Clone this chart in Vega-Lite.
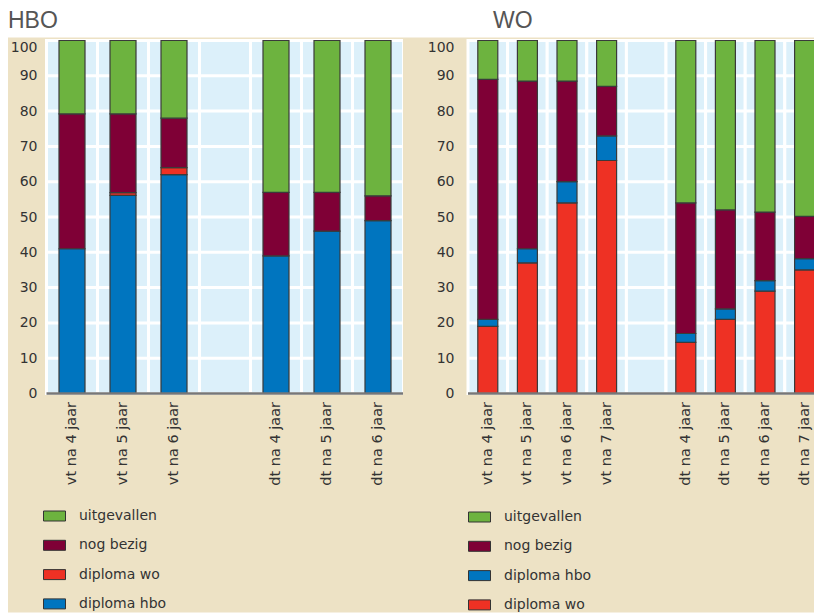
{
  "$schema": "https://vega.github.io/schema/vega-lite/v6.json",
  "background": "white",
  "padding": {"left": 8, "top": 9.5, "right": 0, "bottom": 0},
  "spacing": 0,
  "resolve": {"scale": {"color": "independent", "x": "independent", "y": "independent"}, "legend": {"color": "independent"}},
  "config": {
    "view": {"stroke": null},
    "font": "DejaVu Sans",
    "title": {"font": "Liberation Sans", "fontSize": 23, "fontWeight": "normal", "color": "#555555", "anchor": "start", "baseline": "alphabetic", "offset": 4.3}
  },
  "datasets": {
    "hbo": [
      {"cat": "vt na 4 jaar", "status": "diploma hbo", "pct": 41},
      {"cat": "vt na 4 jaar", "status": "nog bezig", "pct": 38.2},
      {"cat": "vt na 4 jaar", "status": "uitgevallen", "pct": 20.8},
      {"cat": "vt na 5 jaar", "status": "diploma hbo", "pct": 56.1},
      {"cat": "vt na 5 jaar", "status": "diploma wo", "pct": 0.8},
      {"cat": "vt na 5 jaar", "status": "nog bezig", "pct": 22.3},
      {"cat": "vt na 5 jaar", "status": "uitgevallen", "pct": 20.8},
      {"cat": "vt na 6 jaar", "status": "diploma hbo", "pct": 62},
      {"cat": "vt na 6 jaar", "status": "diploma wo", "pct": 2},
      {"cat": "vt na 6 jaar", "status": "nog bezig", "pct": 14},
      {"cat": "vt na 6 jaar", "status": "uitgevallen", "pct": 22},
      {"cat": "dt na 4 jaar", "status": "diploma hbo", "pct": 39},
      {"cat": "dt na 4 jaar", "status": "nog bezig", "pct": 18},
      {"cat": "dt na 4 jaar", "status": "uitgevallen", "pct": 43},
      {"cat": "dt na 5 jaar", "status": "diploma hbo", "pct": 46},
      {"cat": "dt na 5 jaar", "status": "nog bezig", "pct": 11},
      {"cat": "dt na 5 jaar", "status": "uitgevallen", "pct": 43},
      {"cat": "dt na 6 jaar", "status": "diploma hbo", "pct": 49},
      {"cat": "dt na 6 jaar", "status": "nog bezig", "pct": 7},
      {"cat": "dt na 6 jaar", "status": "uitgevallen", "pct": 44}
    ],
    "wo": [
      {"cat": "vt na 4 jaar", "status": "diploma wo", "pct": 19},
      {"cat": "vt na 4 jaar", "status": "diploma hbo", "pct": 2},
      {"cat": "vt na 4 jaar", "status": "nog bezig", "pct": 68},
      {"cat": "vt na 4 jaar", "status": "uitgevallen", "pct": 11},
      {"cat": "vt na 5 jaar", "status": "diploma wo", "pct": 37},
      {"cat": "vt na 5 jaar", "status": "diploma hbo", "pct": 4},
      {"cat": "vt na 5 jaar", "status": "nog bezig", "pct": 47.5},
      {"cat": "vt na 5 jaar", "status": "uitgevallen", "pct": 11.5},
      {"cat": "vt na 6 jaar", "status": "diploma wo", "pct": 54},
      {"cat": "vt na 6 jaar", "status": "diploma hbo", "pct": 6},
      {"cat": "vt na 6 jaar", "status": "nog bezig", "pct": 28.5},
      {"cat": "vt na 6 jaar", "status": "uitgevallen", "pct": 11.5},
      {"cat": "vt na 7 jaar", "status": "diploma wo", "pct": 66},
      {"cat": "vt na 7 jaar", "status": "diploma hbo", "pct": 7},
      {"cat": "vt na 7 jaar", "status": "nog bezig", "pct": 14},
      {"cat": "vt na 7 jaar", "status": "uitgevallen", "pct": 13},
      {"cat": "dt na 4 jaar", "status": "diploma wo", "pct": 14.5},
      {"cat": "dt na 4 jaar", "status": "diploma hbo", "pct": 2.5},
      {"cat": "dt na 4 jaar", "status": "nog bezig", "pct": 37},
      {"cat": "dt na 4 jaar", "status": "uitgevallen", "pct": 46},
      {"cat": "dt na 5 jaar", "status": "diploma wo", "pct": 21},
      {"cat": "dt na 5 jaar", "status": "diploma hbo", "pct": 3},
      {"cat": "dt na 5 jaar", "status": "nog bezig", "pct": 28},
      {"cat": "dt na 5 jaar", "status": "uitgevallen", "pct": 48},
      {"cat": "dt na 6 jaar", "status": "diploma wo", "pct": 29},
      {"cat": "dt na 6 jaar", "status": "diploma hbo", "pct": 3},
      {"cat": "dt na 6 jaar", "status": "nog bezig", "pct": 19.4},
      {"cat": "dt na 6 jaar", "status": "uitgevallen", "pct": 48.6},
      {"cat": "dt na 7 jaar", "status": "diploma wo", "pct": 35},
      {"cat": "dt na 7 jaar", "status": "diploma hbo", "pct": 3.2},
      {"cat": "dt na 7 jaar", "status": "nog bezig", "pct": 12},
      {"cat": "dt na 7 jaar", "status": "uitgevallen", "pct": 49.8}
    ],
    "volgorde_hbo": [
      {"status": "diploma hbo", "rang": 1},
      {"status": "diploma wo", "rang": 2},
      {"status": "nog bezig", "rang": 3},
      {"status": "uitgevallen", "rang": 4}
    ],
    "volgorde_wo": [
      {"status": "diploma wo", "rang": 1},
      {"status": "diploma hbo", "rang": 2},
      {"status": "nog bezig", "rang": 3},
      {"status": "uitgevallen", "rang": 4}
    ],
    "slots_hbo": [
      {"slot": "vt na 4 jaar"}, {"slot": "vt na 5 jaar"}, {"slot": "vt na 6 jaar"}, {"slot": " "},
      {"slot": "dt na 4 jaar"}, {"slot": "dt na 5 jaar"}, {"slot": "dt na 6 jaar"}
    ],
    "slots_wo": [
      {"slot": "vt na 4 jaar"}, {"slot": "vt na 5 jaar"}, {"slot": "vt na 6 jaar"}, {"slot": "vt na 7 jaar"}, {"slot": " "},
      {"slot": "dt na 4 jaar"}, {"slot": "dt na 5 jaar"}, {"slot": "dt na 6 jaar"}, {"slot": "dt na 7 jaar"}
    ],
    "grid": [{"v": 10}, {"v": 20}, {"v": 30}, {"v": 40}, {"v": 50}, {"v": 60}, {"v": 70}, {"v": 80}, {"v": 90}],
    "base": [{"v": 0}]
  },
  "hconcat": [
    {
      "title": {"text": "HBO"},
      "width": 395,
      "height": 575,
      "view": {"fill": "#ede2c5", "stroke": null},
      "layer": [
        {
          "data": {"name": "slots_hbo"},
          "mark": {"type": "rect", "fill": "#dcf0fa", "stroke": "white", "strokeWidth": 3, "clip": true},
          "encoding": {
            "x": {"field": "slot", "type": "nominal", "title": null},
            "y": {"datum": 0, "type": "quantitative", "title": null},
            "y2": {"datum": 100}
          }
        },
        {
          "data": {"name": "grid"},
          "mark": {"type": "rule", "color": "white", "strokeWidth": 3, "clip": true},
          "encoding": {
            "y": {"field": "v", "type": "quantitative", "title": null},
            "x": {"datum": "vt na 4 jaar", "bandPosition": 0, "title": null},
            "x2": {"datum": "dt na 6 jaar", "bandPosition": 1}
          }
        },
        {
          "data": {"name": "hbo"},
          "transform": [
            {"lookup": "status", "from": {"data": {"name": "volgorde_hbo"}, "key": "status", "fields": ["rang"]}}
          ],
          "mark": {"type": "bar", "stroke": "#3a3a3a", "strokeWidth": 1.2, "width": {"band": 0.51}, "clip": true},
          "encoding": {
            "x": {
              "field": "cat", "type": "nominal", "title": null,
              "scale": {"domain": ["vt na 4 jaar", "vt na 5 jaar", "vt na 6 jaar", " ", "dt na 4 jaar", "dt na 5 jaar", "dt na 6 jaar"], "range": [38.5, 395.5], "paddingInner": 0, "paddingOuter": 0},
              "axis": {"orient": "bottom", "offset": -219, "domain": false, "ticks": false, "grid": false, "labelAngle": -90, "labelAlign": "right", "labelBaseline": "middle", "labelPadding": 8, "labelFontSize": 14.5, "labelColor": "#333333", "labelOverlap": false, "labelBound": false}
            },
            "y": {
              "field": "pct", "type": "quantitative", "stack": "zero", "title": null,
              "scale": {"domain": [0, 100], "range": [356, 3], "nice": false},
              "axis": {"orient": "left", "offset": -31, "domain": false, "ticks": false, "grid": false, "values": [0, 10, 20, 30, 40, 50, 60, 70, 80, 90, 100], "labelPadding": 2, "labelFontSize": 14, "labelColor": "#333333", "labelBaseline": {"condition": {"test": "datum.value == 100", "value": "top"}, "value": "middle"}}
            },
            "order": {"field": "rang", "type": "quantitative", "sort": "ascending"},
            "color": {
              "field": "status", "type": "nominal",
              "scale": {"domain": ["uitgevallen", "nog bezig", "diploma wo", "diploma hbo"], "range": ["#6db33f", "#7f0036", "#ee3124", "#0075bf"]},
              "legend": {"orient": "none", "legendX": 35, "legendY": 467, "title": null, "padding": 0, "symbolType": "M-1,-0.4545H1V0.4545H-1Z", "symbolSize": 484, "symbolStrokeColor": "#333333", "symbolStrokeWidth": 1, "symbolOpacity": 1, "labelFontSize": 14, "labelColor": "#333333", "labelOffset": 13, "rowPadding": 10.3}
            }
          }
        },
        {
          "data": {"name": "base"},
          "mark": {"type": "rule", "color": "#777777", "strokeWidth": 2.5, "clip": true},
          "encoding": {
            "y": {"field": "v", "type": "quantitative", "title": null},
            "x": {"datum": "vt na 4 jaar", "bandPosition": 0, "title": null},
            "x2": {"datum": "dt na 6 jaar", "bandPosition": 1}
          }
        }
      ]
    },
    {
      "title": {"text": "WO", "dx": 90},
      "width": 411,
      "height": 575,
      "view": {"fill": "#ede2c5", "stroke": null},
      "layer": [
        {
          "data": {"name": "slots_wo"},
          "mark": {"type": "rect", "fill": "#dcf0fa", "stroke": "white", "strokeWidth": 3, "clip": true},
          "encoding": {
            "x": {"field": "slot", "type": "nominal", "title": null},
            "y": {"datum": 0, "type": "quantitative", "title": null},
            "y2": {"datum": 100}
          }
        },
        {
          "data": {"name": "grid"},
          "mark": {"type": "rule", "color": "white", "strokeWidth": 3, "clip": true},
          "encoding": {
            "y": {"field": "v", "type": "quantitative", "title": null},
            "x": {"datum": "vt na 4 jaar", "bandPosition": 0, "title": null},
            "x2": {"datum": "dt na 7 jaar", "bandPosition": 1}
          }
        },
        {
          "data": {"name": "wo"},
          "transform": [
            {"lookup": "status", "from": {"data": {"name": "volgorde_wo"}, "key": "status", "fields": ["rang"]}}
          ],
          "mark": {"type": "bar", "stroke": "#3a3a3a", "strokeWidth": 1.2, "width": {"band": 0.505}, "clip": true},
          "encoding": {
            "x": {
              "field": "cat", "type": "nominal", "title": null,
              "scale": {"domain": ["vt na 4 jaar", "vt na 5 jaar", "vt na 6 jaar", "vt na 7 jaar", " ", "dt na 4 jaar", "dt na 5 jaar", "dt na 6 jaar", "dt na 7 jaar"], "range": [65, 421.4], "paddingInner": 0, "paddingOuter": 0},
              "axis": {"orient": "bottom", "offset": -219, "domain": false, "ticks": false, "grid": false, "labelAngle": -90, "labelAlign": "right", "labelBaseline": "middle", "labelPadding": 8, "labelFontSize": 14.5, "labelColor": "#333333", "labelOverlap": false, "labelBound": false}
            },
            "y": {
              "field": "pct", "type": "quantitative", "stack": "zero", "title": null,
              "scale": {"domain": [0, 100], "range": [356, 3], "nice": false},
              "axis": {"orient": "left", "offset": -53, "domain": false, "ticks": false, "grid": false, "values": [0, 10, 20, 30, 40, 50, 60, 70, 80, 90, 100], "labelPadding": 2, "labelFontSize": 14, "labelColor": "#333333", "labelBaseline": {"condition": {"test": "datum.value == 100", "value": "top"}, "value": "middle"}}
            },
            "order": {"field": "rang", "type": "quantitative", "sort": "ascending"},
            "color": {
              "field": "status", "type": "nominal",
              "scale": {"domain": ["uitgevallen", "nog bezig", "diploma hbo", "diploma wo"], "range": ["#6db33f", "#7f0036", "#0075bf", "#ee3124"]},
              "legend": {"orient": "none", "legendX": 65, "legendY": 468, "title": null, "padding": 0, "symbolType": "M-1,-0.4545H1V0.4545H-1Z", "symbolSize": 484, "symbolStrokeColor": "#333333", "symbolStrokeWidth": 1, "symbolOpacity": 1, "labelFontSize": 14, "labelColor": "#333333", "labelOffset": 13, "rowPadding": 10.3}
            }
          }
        },
        {
          "data": {"name": "base"},
          "mark": {"type": "rule", "color": "#777777", "strokeWidth": 2.5, "clip": true},
          "encoding": {
            "y": {"field": "v", "type": "quantitative", "title": null},
            "x": {"datum": "vt na 4 jaar", "bandPosition": 0, "title": null},
            "x2": {"datum": "dt na 7 jaar", "bandPosition": 1}
          }
        }
      ]
    }
  ]
}
